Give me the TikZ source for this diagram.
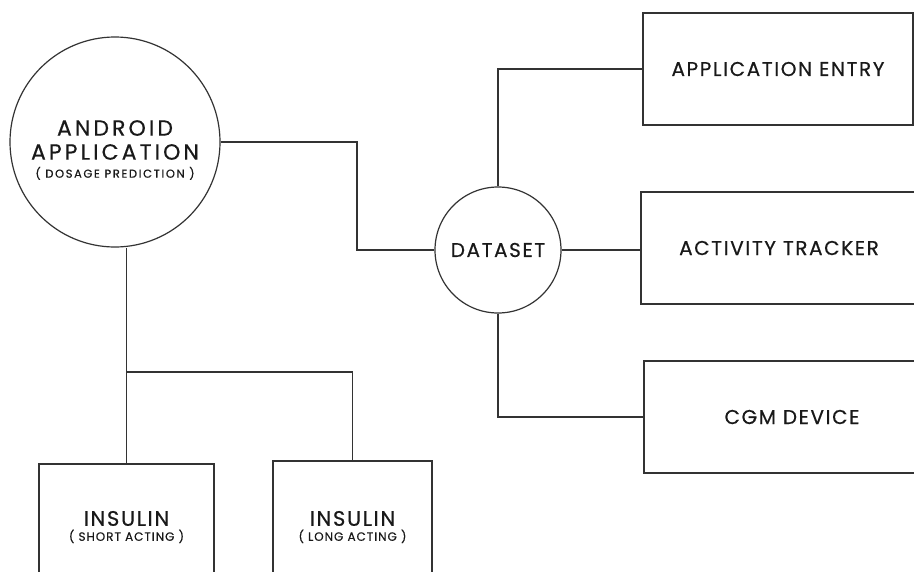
\documentclass[tikz,border=0pt]{standalone}
\usepackage{fontspec}
\setmainfont{Poppins}[LetterSpace=8, FakeBold=0.5]
\usetikzlibrary{positioning}

\begin{document}
\begin{tikzpicture}[x=1pt,y=-1pt,
    wire/.style={draw=black!80, line width=1.2pt},
    bubble/.style={circle, wire, text=black!90, align=center, inner sep=0pt},
    block/.style={rectangle, wire, text=black!90, align=center, minimum height=112pt, font=\fontsize{20}{22}\selectfont},
    drug/.style={rectangle, wire, text=black!90, align=center, font=\fontsize{21}{15}\selectfont}]
\useasboundingbox (0,0) rectangle (914,571);
\clip (0,0) rectangle (914,571);
\fill[white] (0,0) rectangle (914,571);

\node[bubble, minimum size=210pt,
    label={[align=center, text=black!90, yshift=-8pt, font=\fontsize{22}{24}\selectfont\addfontfeature{LetterSpace=14}]center:ANDROID\\
     APPLICATION\\[-6pt]
     \fontsize{11.5}{12}\selectfont ( DOSAGE PREDICTION )}] (app) at (115,142) {};
\node[bubble, minimum size=126pt, font=\fontsize{20}{22}\selectfont] (data) at (498,250) {DATASET};

\foreach \name/\xpos/\ypos/\boxw/\txt in {entry/778/69/270/APPLICATION ENTRY,
        tracker/779/248/276/ACTIVITY TRACKER, cgm/792/417/296/CGM DEVICE}
    \node[block, minimum width=\boxw pt] (\name) at (\xpos,\ypos) {\txt};

\node[drug, minimum width=175pt, minimum height=126pt] (short) at (126.5,527)
    {INSULIN\\ \fontsize{12}{12}\selectfont ( SHORT ACTING )};
\node[drug, minimum width=159pt, minimum height=132pt] (long) at (352.5,527)
    {INSULIN\\ \fontsize{12}{12}\selectfont ( LONG ACTING )};

\coordinate (bend) at (357,200);
\coordinate (split) at (126.5,372);
\draw[wire] (app.east) -| (bend) |- (data.west);
\draw[wire] (data.north) |- (entry.west);
\draw[wire] (data.east) -- (data.east -| tracker.west);
\draw[wire] (data.south) |- (cgm.west);
\draw[wire] (short.north) -- (short.north |- app.south);
\draw[wire] (split) -| (long.north);
\end{tikzpicture}
\end{document}
